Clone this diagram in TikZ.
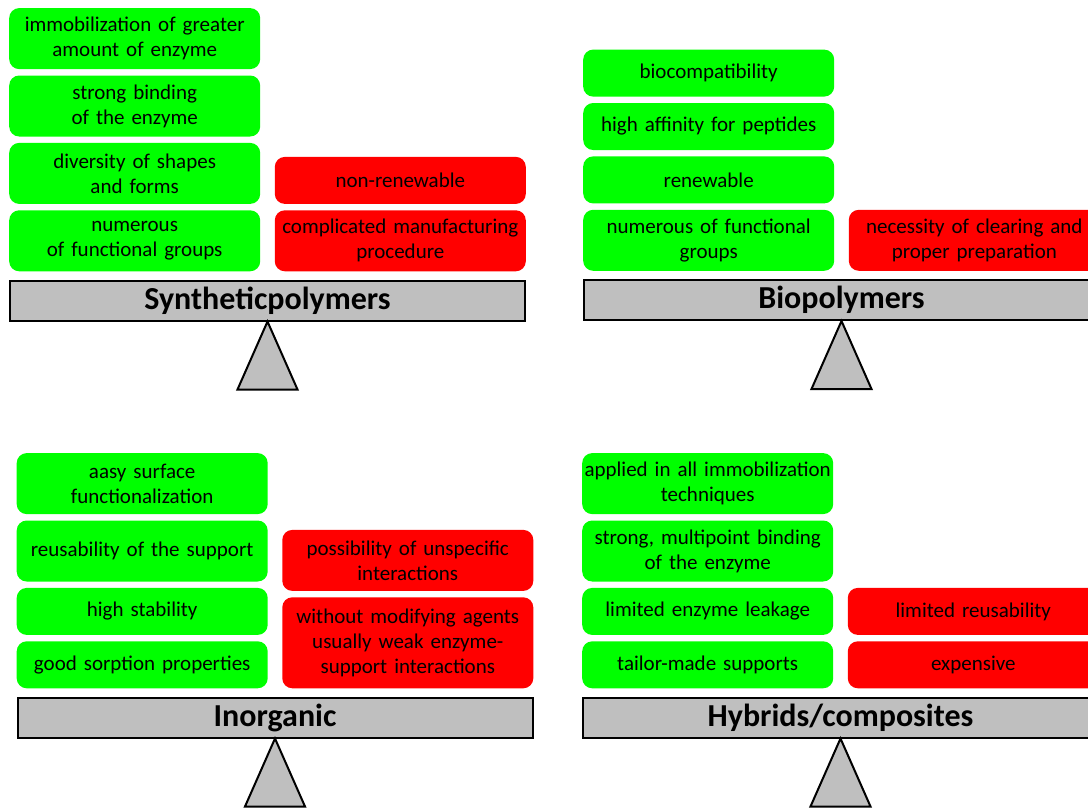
\documentclass[tikz,border=0pt]{standalone}
\usepackage{fontspec}
\setmainfont{Carlito}
\usetikzlibrary{positioning}
\definecolor{progreen}{RGB}{0,255,0}
\definecolor{conred}{RGB}{255,0,0}
\definecolor{beamgray}{RGB}{191,191,191}
\tikzset{
  pro/.style={rectangle, rounded corners=10pt, fill=progreen, minimum width=251pt, text width=249pt, inner xsep=1pt, inner ysep=2pt, align=center, minimum height=47pt, font=\fontsize{21}{25}\selectfont},
  con/.style={pro, fill=conred},
  twoline/.style={minimum height=61pt},
  threeline/.style={minimum height=91pt},
  beam/.style={draw, line width=2pt, fill=beamgray, minimum width=515pt, minimum height=40pt, inner sep=0pt, font=\fontsize{32}{34}\selectfont\bfseries},
  pivot/.style={draw, line width=2pt, fill=beamgray, line join=miter}
}
\begin{document}
\begin{tikzpicture}[x=1pt,y=-1pt]
  \useasboundingbox (0,0) rectangle (1088,809);
  \clip (0,0) rectangle (1088,809);

  % synthetic polymers
  \node[beam] (synbar) at (267.5,300.5) {Syntheticpolymers};
  \node[pro, twoline, above right=8pt and 0pt of synbar.north west] (synpro4) {numerous\\of functional groups};
  \node[pro, twoline, above=6pt of synpro4] (synpro3) {diversity of shapes\\and forms};
  \node[pro, twoline, above=6pt of synpro3] (synpro2) {strong binding\\of the enzyme};
  \node[pro, twoline, above=6pt of synpro2] (synpro1) {immobilization of greater\\amount of enzyme};
  \node[con, twoline, above left=8pt and 0pt of synbar.north east] (syncon2) {complicated manufacturing\\procedure};
  \node[con, above=6pt of syncon2] (syncon1) {non-renewable};
  \draw[pivot] (synbar.south) -- ++(30,68) -- ++(-60,0) -- cycle;

  % biopolymers
  \node[beam] (biobar) at (841.5,300) {Biopolymers};
  \node[pro, twoline, above right=8pt and 0pt of biobar.north west] (biopro4) {numerous of functional\\groups};
  \node[pro, above=6pt of biopro4] (biopro3) {renewable};
  \node[pro, above=6pt of biopro3] (biopro2) {high affinity for peptides};
  \node[pro, above=6pt of biopro2] (biopro1) {biocompatibility};
  \node[con, twoline, above left=8pt and 0pt of biobar.north east] (biocon1) {necessity of clearing and\\proper preparation};
  \draw[pivot] (biobar.south) -- ++(30,68) -- ++(-60,0) -- cycle;

  % inorganic
  \node[beam] (inobar) at (275,717.5) {Inorganic};
  \node[pro, above right=8pt and 0pt of inobar.north west] (inopro4) {good sorption properties};
  \node[pro, above=6pt of inopro4] (inopro3) {high stability};
  \node[pro, twoline, above=6pt of inopro3] (inopro2) {reusability of the support};
  \node[pro, twoline, above=6pt of inopro2] (inopro1) {aasy surface\\functionalization};
  \node[con, threeline, above left=8pt and 0pt of inobar.north east] (inocon2) {without modifying agents\\usually weak enzyme-\\support interactions};
  \node[con, twoline, above=6pt of inocon2] (inocon1) {possibility of unspecific\\interactions};
  \draw[pivot] (inobar.south) -- ++(30,68) -- ++(-60,0) -- cycle;

  % hybrids
  \node[beam] (hybbar) at (840.5,717.5) {Hybrids/composites};
  \node[pro, above right=8pt and 0pt of hybbar.north west] (hybpro4) {tailor-made supports};
  \node[pro, above=6pt of hybpro4] (hybpro3) {limited enzyme leakage};
  \node[pro, twoline, above=6pt of hybpro3] (hybpro2) {strong, multipoint binding\\of the enzyme};
  \node[pro, twoline, above=6pt of hybpro2] (hybpro1) {applied in all immobilization\\techniques};
  \node[con, above left=8pt and 0pt of hybbar.north east] (hybcon2) {expensive};
  \node[con, above=6pt of hybcon2] (hybcon1) {limited reusability};
  \draw[pivot] (hybbar.south) -- ++(30,68) -- ++(-60,0) -- cycle;
\end{tikzpicture}
\end{document}
